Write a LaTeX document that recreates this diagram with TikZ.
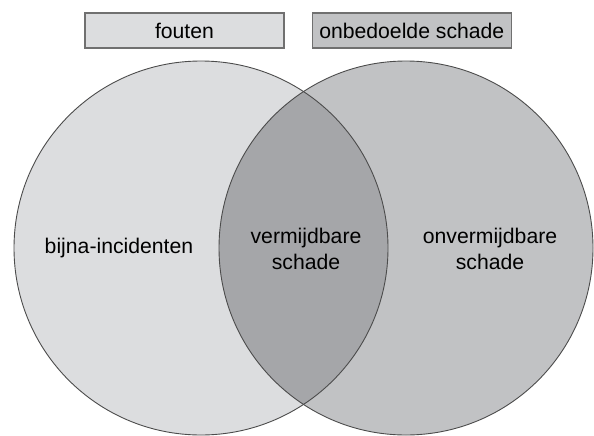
\documentclass[tikz,border=0pt]{standalone}
\usepackage{fontspec}
\setmainfont{Liberation Sans}
\usepackage{tikz}
\usetikzlibrary{positioning}
\definecolor{lichtgrijs}{HTML}{DCDDDF}
\definecolor{middengrijs}{HTML}{C1C2C4}
\definecolor{donkergrijs}{HTML}{A5A6A9}
\definecolor{randgrijs}{HTML}{707070}
\tikzset{
  kop/.style={draw=randgrijs,line width=0.65pt,minimum width=99.5pt,minimum height=17.5pt,inner sep=0pt},
  cirkelrand/.style={draw=black!70,line width=0.45pt},
  label/.style={align=center,font=\fontsize{10.6}{13}\selectfont}
}
\begin{document}
\begin{tikzpicture}[x=0.5pt,y=0.5pt]
  \useasboundingbox (0,0) rectangle (594,435);
  \coordinate (links) at (201,187);
  \coordinate (rechts) at (406,187);
  % cirkels en overlap
  \fill[lichtgrijs] (links) circle (187);
  \fill[middengrijs] (rechts) circle (187);
  \begin{scope}
    \clip (links) circle (187);
    \fill[donkergrijs] (rechts) circle (187);
  \end{scope}
  \draw[cirkelrand] (links) circle (187);
  \draw[cirkelrand] (rechts) circle (187);
  % legenda
  \node[kop,fill=lichtgrijs,label] (fouten) at (184.5,404.5) {fouten};
  \node[kop,fill=middengrijs,label,right=13.5pt of fouten] (onbedoeld) {onbedoelde schade};
  % teksten
  \node[label] (bijna) at (119,187) {bijna-incidenten};
  \node[label] (vermijdbaar) at (306,186) {vermijdbare\\schade};
  \node[label] (onvermijdbaar) at (490,186) {onvermijdbare\\schade};
\end{tikzpicture}
\end{document}
